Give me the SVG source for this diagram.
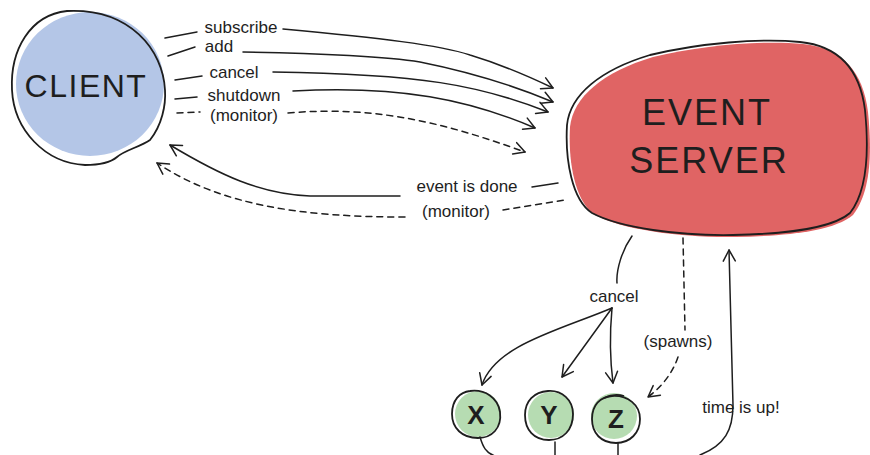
<svg xmlns="http://www.w3.org/2000/svg" width="870" height="455" viewBox="0 0 870 455">
<style>
.ln{fill:none;stroke:#1e1e1e;stroke-width:1.5;stroke-linecap:round;stroke-linejoin:round}
.ds{stroke-dasharray:6 5}
.ol{fill:none;stroke:#1e1e1e;stroke-width:1.8;stroke-linejoin:round}
.lb{font-family:"Liberation Sans","Open Sans",sans-serif;font-size:17px;fill:#1e1e1e;text-anchor:middle}
.big{font-family:"Liberation Sans","Open Sans",sans-serif;fill:#1e1e1e;text-anchor:middle}
</style>
<defs>
<marker id="arr" viewBox="-14 -8 16 16" refX="0" refY="0" markerWidth="16" markerHeight="16" orient="auto" markerUnits="userSpaceOnUse">
<path d="M-11,-6 L0,0 L-11,6" fill="none" stroke="#1e1e1e" stroke-width="1.5" stroke-linecap="round" stroke-linejoin="round"/>
</marker>
</defs>
<rect width="870" height="455" fill="#ffffff"/>

<g id="client">
<ellipse cx="90" cy="84" rx="74" ry="72" fill="#b4c6e7"/>
<path class="ol" d="M67,11 C30,15 10,50 12,90 C14,130 45,163 85,165 C100,165 110,163 117,157 C125,150 140,147 150,140 C162,125 166,105 165,90 C163,50 130,8 67,11 Z"/>
<text class="big" x="86" y="97" font-size="32" letter-spacing="1.5">CLIENT</text>
</g>

<g id="event-server">
<path fill="#e06464" d="M570,127 C573,97 603,72 653,57 C703,45 763,40 803,44 C843,48 863,72 868,112 C872,152 871,192 853,215 C833,232 783,236 736,237 C683,238 623,230 595,215 C575,202 568,162 570,127 Z"/>
<path class="ol" d="M567,125 C570,95 600,70 650,55 C700,43 760,38 800,42 C840,46 860,70 865,110 C869,150 868,190 850,213 C830,230 780,234 733,235 C680,236 620,228 592,213 C572,200 565,160 567,125 Z"/>
<text class="big" x="707" y="125" font-size="36" letter-spacing="2">EVENT</text>
<text class="big" x="709" y="173" font-size="36" letter-spacing="2">SERVER</text>
</g>

<g id="x">
<circle cx="478" cy="414" r="23" fill="#b6dcb2"/>
<path class="ol" d="M470,391 C485,389 498,398 500,412 C502,428 492,438 478,438 C462,438 452,428 452,414 C452,400 460,392 470,391 Z"/>
<text class="big" x="476" y="424" font-size="26" font-weight="bold">X</text>
</g>
<g id="y">
<circle cx="551" cy="415" r="23" fill="#b6dcb2"/>
<path class="ol" d="M548,391 C562,390 573,400 573,414 C573,430 563,440 549,440 C534,440 525,430 525,415 C525,401 534,392 548,391 Z"/>
<text class="big" x="549" y="424" font-size="26" font-weight="bold">Y</text>
</g>
<g id="z">
<circle cx="614" cy="416" r="23" fill="#b6dcb2"/>
<path class="ol" d="M612,396 C628,395 640,405 640,419 C640,433 630,443 616,443 C601,443 592,433 592,419 C592,405 600,397 612,396 Z"/>
<path class="ol" d="M604,398 C610,395 618,394 624,396"/>
<text class="big" x="616" y="428" font-size="26" font-weight="bold">Z</text>
</g>

<g id="connectors">
<path class="ln" d="M165,38 L197,32"/>
<path class="ln" d="M283,29 C380,38 440,45 470,55 C500,64 530,77 553,88" marker-end="url(#arr)"/>
<path class="ln" d="M168,56 L195,47"/>
<path class="ln" d="M243,52 C320,53 390,57 420,62 C470,72 510,84 553,102" marker-end="url(#arr)"/>
<path class="ln" d="M175,80 L202,76"/>
<path class="ln" d="M273,72 C420,74 480,85 548,112" marker-end="url(#arr)"/>
<path class="ln" d="M175,99 L197,97"/>
<path class="ln" d="M293,91 C400,85 470,100 535,128" marker-end="url(#arr)"/>
<path class="ln ds" d="M177,113 L200,112"/>
<path class="ln ds" d="M288,113 C380,105 450,125 525,152" marker-end="url(#arr)"/>

<path class="ln" d="M532,187 L558,183"/>
<path class="ln" d="M400,196 L310,196 C260,194 220,175 170,145" marker-end="url(#arr)"/>
<path class="ln ds" d="M503,210 L565,200"/>
<path class="ln ds" d="M405,217 C300,217 220,205 157,163" marker-end="url(#arr)"/>

<path class="ln" d="M632,236 C622,250 616,270 617,283"/>
<path class="ln" d="M612,308 C560,330 495,345 482,385" marker-end="url(#arr)"/>
<path class="ln" d="M612,308 L562,377" marker-end="url(#arr)"/>
<path class="ln" d="M612,308 C610,330 610,360 613,383" marker-end="url(#arr)"/>

<path class="ln ds" d="M683,238 L685,330"/>
<path class="ln ds" d="M678,357 C672,375 660,388 648,397" marker-end="url(#arr)"/>

<path class="ln" d="M700,455 C725,445 733,430 733,405 L729,250" marker-end="url(#arr)"/>

<path class="ln" d="M480,437 C483,447 486,453 495,456"/>
<path class="ln" d="M555,442 L555,456"/>
<path class="ln" d="M618,443 L618,456"/>
</g>

<g id="labels">
<text class="lb" x="241" y="33">subscribe</text>
<text class="lb" x="219" y="52">add</text>
<text class="lb" x="234" y="78">cancel</text>
<text class="lb" x="244" y="101">shutdown</text>
<text class="lb" x="244" y="121">(monitor)</text>
<text class="lb" x="467" y="192">event is done</text>
<text class="lb" x="456" y="217">(monitor)</text>
<text class="lb" x="614" y="302">cancel</text>
<text class="lb" x="678" y="347">(spawns)</text>
<text class="lb" x="741" y="413">time is up!</text>
</g>
</svg>
